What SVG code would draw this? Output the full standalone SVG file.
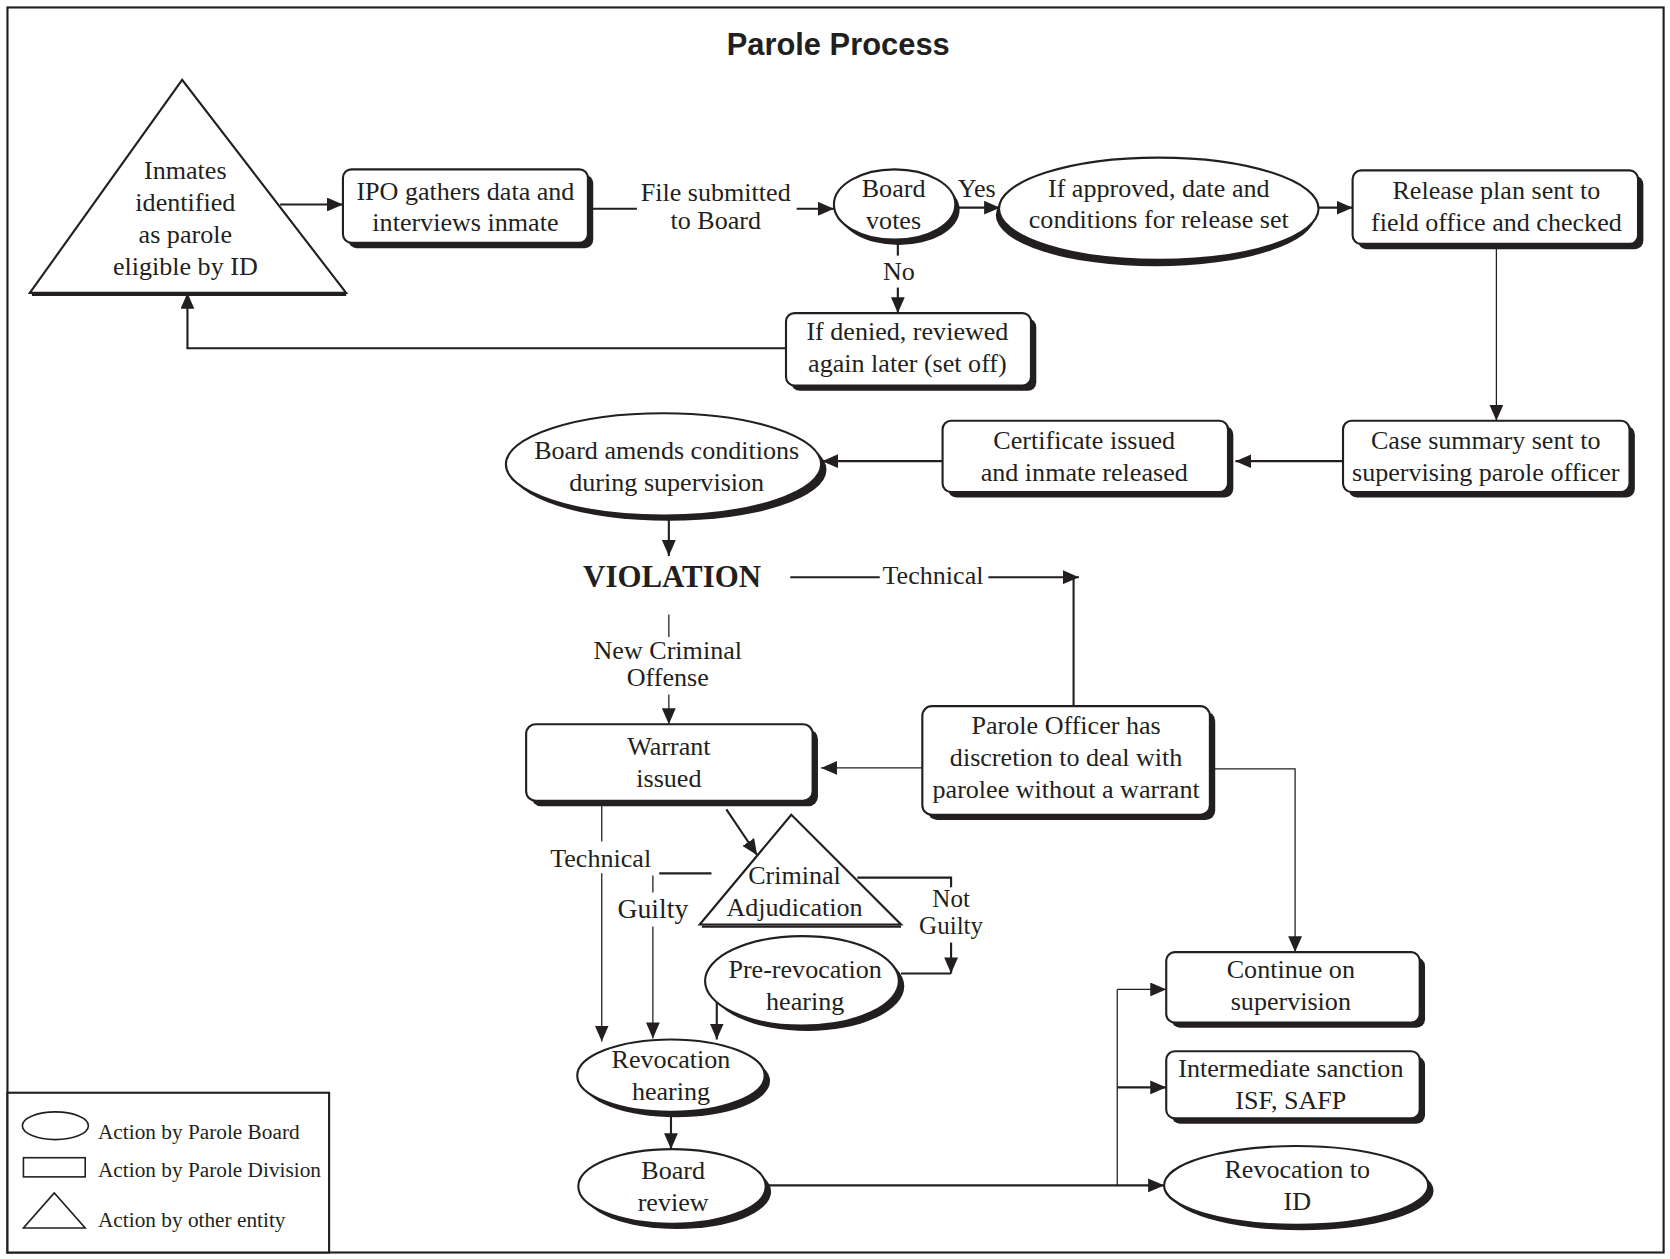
<svg xmlns="http://www.w3.org/2000/svg" width="1670" height="1259" viewBox="0 0 1670 1259">
<style>
.t{font-family:"Liberation Serif","Times New Roman",serif;font-size:24.5px;fill:#231f20;text-anchor:middle}
.lg{font-family:"Liberation Serif","Times New Roman",serif;font-size:20px;fill:#231f20}
.sh{fill:#231f20;stroke:none}
.bx{fill:#fff;stroke:#231f20;stroke-width:2}
.ln{fill:none;stroke:#231f20;stroke-width:2}
.th{fill:none;stroke:#231f20;stroke-width:1.2}
.ar{marker-end:url(#ah)}
</style>
<defs>
<marker id="ah" markerWidth="15" markerHeight="13" refX="15" refY="6.5" orient="auto" markerUnits="userSpaceOnUse"><path d="M0,0 L15,6.5 L0,13 z" fill="#231f20"/></marker>
</defs>
<rect width="1670" height="1259" fill="#fff"/>
<g transform="scale(1.06505)">
<rect x="7" y="7" width="1555" height="1169" fill="none" stroke="#231f20" stroke-width="2"/>
<text x="787" y="52" style="font-family:'Liberation Sans',Arial,sans-serif;font-size:29px;font-weight:bold;fill:#231f20;text-anchor:middle">Parole Process</text>

<g id="connectors">
<path class="ln ar" d="M263,192 H322"/>
<path class="ln" d="M552,196 H598"/>
<path class="ln ar" d="M748,196 H783"/>
<path class="ln ar" d="M897,195 H939"/>
<path class="ln" d="M843,225 V240"/>
<path class="ln ar" d="M843,270 V294"/>
<path class="ln ar" d="M1238,195 H1270"/>
<path class="th ar" d="M1405,229 V395"/>
<path class="ln ar" d="M1261,433 H1160"/>
<path class="ln ar" d="M885,433 H772"/>
<path class="ln ar" d="M738,327 H176 V275"/>
<path class="ln ar" d="M628,483 V522"/>
<path class="ln" d="M742,542 H826"/>
<path class="ln ar" d="M928,542 H1013"/>
<path class="ln" d="M1008,542 V663"/>
<path class="th" d="M628,577 V598"/>
<path class="th ar" d="M628,652 V680"/>
<path class="th ar" d="M866,721 H771"/>
<path class="th ar" d="M1136,722 H1216 V894"/>
<path class="ln ar" d="M682,760 L711,803"/>
<path class="th" d="M565,752 V790"/>
<path class="th ar" d="M565,820 V978"/>
<path class="ln" d="M619,820 H668"/>
<path class="th" d="M613,822 V838"/>
<path class="th ar" d="M613,870 V975"/>
<path class="ln" d="M805,824 H893 V833"/>
<path class="ln ar" d="M893,885 V914"/>
<path class="ln" d="M846,914 H893"/>
<path class="ln ar" d="M673,940 V976"/>
<path class="ln ar" d="M630,1043 V1079"/>
<path class="ln ar" d="M720,1113 H1093"/>
<path class="th" d="M1049,929 V1113"/>
<path class="th ar" d="M1049,929 H1095"/>
<path class="ln ar" d="M1049,1021 H1095"/>
<text class="t" x="672" y="189">File submitted</text>
<text class="t" x="672" y="215">to Board</text>
<text class="t" x="917" y="185">Yes</text>
<text class="t" x="844" y="263">No</text>
<text class="t" x="876" y="548">Technical</text>
<text class="t" x="627" y="619">New Criminal</text>
<text class="t" x="627" y="644">Offense</text>
<text class="t" x="564" y="814">Technical</text>
<text class="t" x="613" y="862" style="font-size:26px">Guilty</text>
<text class="t" x="893" y="852" style="font-size:23.5px">Not</text>
<text class="t" x="893" y="877" style="font-size:23.5px">Guilty</text>
</g>

<g id="n-inmates">
<path class="bx" d="M171,75 L28,275 L325,275 Z"/>
<path class="ln" d="M30,277 H325" stroke-width="2.5"/>
<text class="t" x="174" y="168">Inmates</text>
<text class="t" x="174" y="198">identified</text>
<text class="t" x="174" y="228">as parole</text>
<text class="t" x="174" y="258">eligible by ID</text>
</g>

<g id="n-ipo">
<rect class="sh" x="327" y="164" width="230" height="69" rx="8"/>
<rect class="bx" x="322" y="159" width="230" height="69" rx="8"/>
<text class="t" x="437" y="188">IPO gathers data and</text>
<text class="t" x="437" y="217">interviews inmate</text>
</g>

<g id="n-boardvotes">
<ellipse class="sh" cx="844" cy="197" rx="57" ry="33"/>
<ellipse class="bx" cx="840" cy="192" rx="57" ry="33"/>
<text class="t" x="839" y="185">Board</text>
<text class="t" x="839" y="215">votes</text>
</g>

<g id="n-approved">
<ellipse class="sh" cx="1085" cy="202" rx="150" ry="48"/>
<ellipse class="bx" cx="1088" cy="196" rx="150" ry="48"/>
<text class="t" x="1088" y="185">If approved, date and</text>
<text class="t" x="1088" y="214">conditions for release set</text>
</g>

<g id="n-release">
<rect class="sh" x="1275" y="165" width="268" height="69" rx="8"/>
<rect class="bx" x="1270" y="160" width="268" height="69" rx="8"/>
<text class="t" x="1405" y="187">Release plan sent to</text>
<text class="t" x="1405" y="217">field office and checked</text>
</g>

<g id="n-denied">
<rect class="sh" x="743" y="299" width="230" height="68" rx="8"/>
<rect class="bx" x="738" y="294" width="230" height="68" rx="8"/>
<text class="t" x="852" y="319">If denied, reviewed</text>
<text class="t" x="852" y="349">again later (set off)</text>
</g>

<g id="n-casesummary">
<rect class="sh" x="1266" y="400" width="269" height="67" rx="8"/>
<rect class="bx" x="1261" y="395" width="269" height="67" rx="8"/>
<text class="t" x="1395" y="422">Case summary sent to</text>
<text class="t" x="1395" y="452">supervising parole officer</text>
</g>

<g id="n-certificate">
<rect class="sh" x="890" y="400" width="268" height="67" rx="8"/>
<rect class="bx" x="885" y="395" width="268" height="67" rx="8"/>
<text class="t" x="1018" y="422">Certificate issued</text>
<text class="t" x="1018" y="452">and inmate released</text>
</g>

<g id="n-amends">
<ellipse class="sh" cx="628" cy="441" rx="148" ry="48"/>
<ellipse class="bx" cx="623" cy="436" rx="148" ry="48"/>
<text class="t" x="626" y="431">Board amends conditions</text>
<text class="t" x="626" y="461">during supervision</text>
</g>

<g id="n-violation">
<text x="631" y="551" style="font-family:'Liberation Serif','Times New Roman',serif;font-size:29px;font-weight:bold;fill:#231f20;text-anchor:middle">VIOLATION</text>
</g>

<g id="n-warrant">
<rect class="sh" x="499" y="685" width="269" height="72" rx="9"/>
<rect class="bx" x="494" y="680" width="269" height="72" rx="9"/>
<text class="t" x="628" y="709">Warrant</text>
<text class="t" x="628" y="739">issued</text>
</g>

<g id="n-officer">
<rect class="sh" x="871" y="668" width="270" height="102" rx="9"/>
<rect class="bx" x="866" y="663" width="270" height="102" rx="9"/>
<text class="t" x="1001" y="689">Parole Officer has</text>
<text class="t" x="1001" y="719">discretion to deal with</text>
<text class="t" x="1001" y="749">parolee without a warrant</text>
</g>

<g id="n-adjudication">
<path class="bx" d="M743,765 L657,868 L846,868 Z"/>
<path class="ln" d="M659,870 H846" stroke-width="2.5"/>
<text class="t" x="746" y="830">Criminal</text>
<text class="t" x="746" y="860">Adjudication</text>
</g>

<g id="n-prerevocation">
<ellipse class="sh" cx="758" cy="926" rx="91" ry="42"/>
<ellipse class="bx" cx="753" cy="921" rx="91" ry="42"/>
<text class="t" x="756" y="918">Pre-revocation</text>
<text class="t" x="756" y="948">hearing</text>
</g>

<g id="n-revhearing">
<ellipse class="sh" cx="635" cy="1015" rx="88" ry="34"/>
<ellipse class="bx" cx="630" cy="1010" rx="88" ry="34"/>
<text class="t" x="630" y="1003">Revocation</text>
<text class="t" x="630" y="1033">hearing</text>
</g>

<g id="n-boardreview">
<ellipse class="sh" cx="636" cy="1119" rx="88" ry="35"/>
<ellipse class="bx" cx="631" cy="1114" rx="88" ry="35"/>
<text class="t" x="632" y="1107">Board</text>
<text class="t" x="632" y="1137">review</text>
</g>

<g id="n-continue">
<rect class="sh" x="1100" y="899" width="238" height="66" rx="8"/>
<rect class="bx" x="1095" y="894" width="238" height="66" rx="8"/>
<text class="t" x="1212" y="918">Continue on</text>
<text class="t" x="1212" y="948">supervision</text>
</g>

<g id="n-intermediate">
<rect class="sh" x="1100" y="992" width="238" height="63" rx="8"/>
<rect class="bx" x="1095" y="987" width="238" height="63" rx="8"/>
<text class="t" x="1212" y="1011">Intermediate sanction</text>
<text class="t" x="1212" y="1041">ISF, SAFP</text>
</g>

<g id="n-revocationid">
<ellipse class="sh" cx="1222" cy="1118" rx="124" ry="37"/>
<ellipse class="bx" cx="1217" cy="1113" rx="124" ry="37"/>
<text class="t" x="1218" y="1106">Revocation to</text>
<text class="t" x="1218" y="1136">ID</text>
</g>

<g id="legend">
<rect x="7" y="1026" width="302" height="150" fill="#fff" stroke="#231f20" stroke-width="2"/>
<ellipse cx="52" cy="1057" rx="31" ry="13" fill="#fff" stroke="#231f20" stroke-width="1.5"/>
<rect x="22" y="1087" width="58" height="18" fill="#fff" stroke="#231f20" stroke-width="1.5"/>
<path d="M51,1120 L22,1153 L80,1153 Z" fill="#fff" stroke="#231f20" stroke-width="1.5"/>
<text class="lg" x="92" y="1069">Action by Parole Board</text>
<text class="lg" x="92" y="1105">Action by Parole Division</text>
<text class="lg" x="92" y="1152">Action by other entity</text>
</g>
</g>
</svg>
